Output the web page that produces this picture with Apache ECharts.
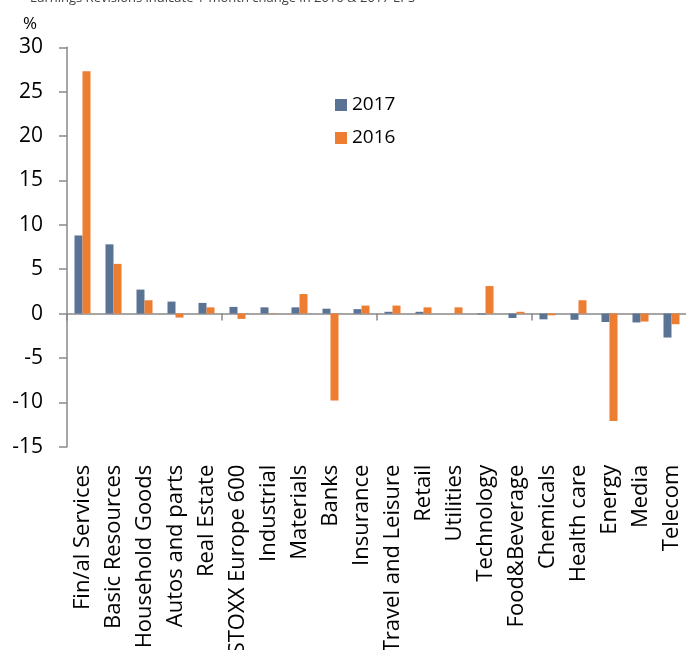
<!DOCTYPE html>
<html>
<head>
<meta charset="utf-8">
<script src="https://cdn.jsdelivr.net/npm/echarts@6/dist/echarts.min.js"></script>
<style>html,body{margin:0;padding:0;background:#fff;}#c{width:686px;height:650px;}</style>
</head>
<body>
<div id="c"></div>
<script>
const categories = ["Fin/al Services","Basic Resources","Household Goods","Autos and parts","Real Estate","STOXX Europe 600","Industrial","Materials","Banks","Insurance","Travel and Leisure","Retail","Utilities","Technology","Food&Beverage","Chemicals","Health care","Energy","Media","Telecom"];
const values2017 = [8.8, 7.8, 2.7, 1.35, 1.2, 0.75, 0.7, 0.7, 0.55, 0.5, 0.2, 0.2, 0.0, -0.1, -0.5, -0.65, -0.7, -0.95, -1.0, -2.7];
const values2016 = [27.3, 5.6, 1.5, -0.45, 0.7, -0.6, 0.05, 2.2, -9.8, 0.9, 0.9, 0.7, 0.7, 3.1, 0.2, -0.2, 1.5, -12.1, -0.9, -1.2];
const yTicks = [-15, -10, -5, 0, 5, 10, 15, 20, 25, 30];
const seriesNames = ["2017", "2016"];

const FONT = "Open Sans";
const chart = echarts.init(document.getElementById('c'), null, {renderer: 'canvas'});
chart.setOption({
  animation: false,
  backgroundColor: '#ffffff',
  textStyle: {fontFamily: FONT},
  title: [
    {text: 'Earnings Revisions indicate 1-month change in 2016 & 2017 EPS', left: 25, top: -13,
     textStyle: {fontFamily: FONT, fontSize: 13, fontWeight: 'normal', color: '#404040'}},
    {text: '%', left: 18, top: 11, textStyle: {fontFamily: FONT, fontSize: 17, fontWeight: 'normal', color: '#000'}}
  ],
  legend: {
    orient: 'vertical', left: 330, top: 88, itemWidth: 12, itemHeight: 12, itemGap: 9,
    icon: 'rect', data: seriesNames, itemStyle: {borderWidth: 0},
    textStyle: {fontFamily: FONT, fontSize: 19, color: '#000', lineHeight: 24, padding: [0,0,0,0]}
  },
  grid: {left: 67, top: 47.3, width: 620, height: 399.4, containLabel: false, outerBoundsMode: 'none'},
  xAxis: [
    {type: 'category', data: categories, position: 'bottom',
     axisLine: {onZero: true, lineStyle: {color: '#898989', width: 1.5}},
     axisTick: {show: true, length: 7, lineStyle: {color: '#898989', width: 1.5}},
     axisLabel: {show: false}, splitLine: {show: false}},
    {type: 'category', data: categories, position: 'bottom', gridIndex: 0,
     axisLine: {show: false, onZero: false}, axisTick: {show: false},
     axisLabel: {show: true, rotate: 90, margin: 18, fontFamily: FONT, fontSize: 22, color: '#000', interval: 0},
     splitLine: {show: false}}
  ],
  yAxis: {
    type: 'value', min: yTicks[0], max: yTicks[yTicks.length-1], interval: 5,
    axisLine: {show: true, lineStyle: {color: '#898989', width: 1.5}},
    axisTick: {show: true, length: 8, lineStyle: {color: '#898989', width: 1.5}},
    axisLabel: {fontFamily: FONT, fontSize: 21, color: '#000', margin: 24},
    splitLine: {show: false}
  },
  series: [
    {name: seriesNames[0], type: 'bar', data: values2017, xAxisIndex: 0, barWidth: 8, barGap: '0%',
     itemStyle: {color: '#5A7294'}},
    {name: seriesNames[1], type: 'bar', data: values2016, xAxisIndex: 0, barWidth: 8, barGap: '0%',
     itemStyle: {color: '#ED7D31'}}
  ]
});
</script>
</body>
</html>
